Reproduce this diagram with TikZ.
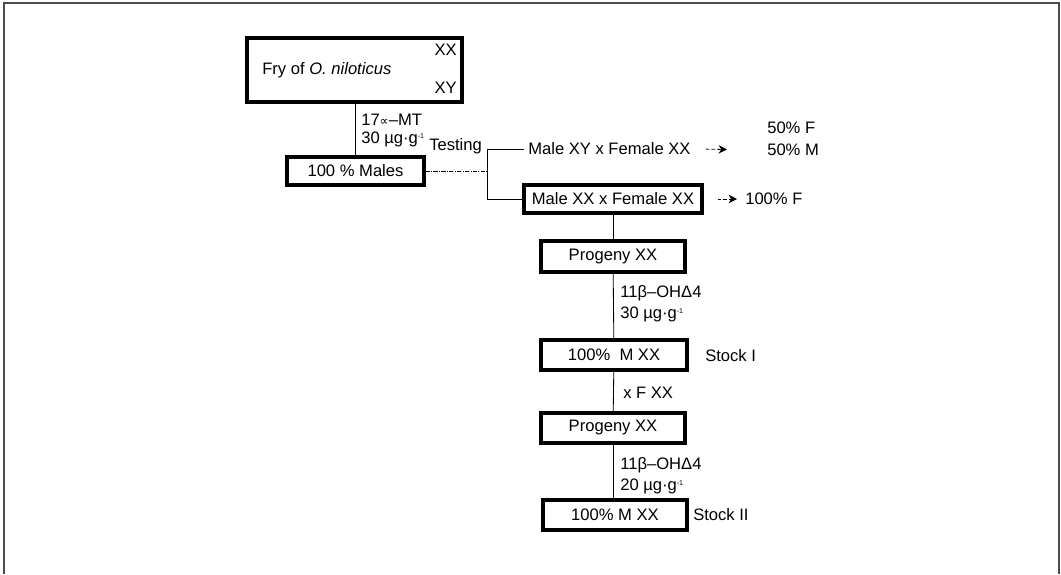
\documentclass[tikz,border=0pt]{standalone}
\usepackage{fontspec}
\setmainfont{Liberation Sans}
\newfontfamily\symfont{DejaVu Sans}
\usetikzlibrary{positioning,arrows.meta}

\begin{document}
\begin{tikzpicture}[x=0.025cm, y=-0.025cm, font=\fontsize{11.8}{14}\selectfont, box/.style={draw, line width=2.2pt, inner sep=0pt, minimum width=3.6cm, minimum height=0.75cm}, link/.style={line width=0.6pt}, txt/.style={inner sep=0pt, anchor=west}, arrow/.style={line width=0.6pt, dash pattern=on 2.5pt off 1.5pt, -{Stealth[length=6pt,width=6pt]}}]
\useasboundingbox (0,0) rectangle (1061,574);
% frame
\draw[line width=1.4pt, black!70] (4,574) -- (4,3) -- (1059,3) -- (1059,574);
% boxes
\node[box, minimum width=5.375cm, minimum height=1.6cm](fry) at (354.5,70){};
\node[txt](frytxt) at (262,70){Fry of \textit{O. niloticus}};
\node[txt, anchor=east](xx) at (457,50){XX};
\node[txt, anchor=east](xy) at (457,88){XY};
\node[box, minimum width=3.425cm, minimum height=0.7cm](males) at (355.5,171){100 \% Males};
\node[box, minimum width=4.45cm, minimum height=0.7cm](cross) at (613,199){Male XX x Female XX};
\node[box, minimum height=0.775cm](prog1) at (613,256.5){Progeny XX};
\node[box, minimum width=3.65cm](stock1) at (614,355){100\%\ \ M XX};
\node[box](prog2) at (613,428){Progeny XX};
\node[box](stock2) at (615,515){100\% M XX};
% labels
\node[txt](mt) at (361,120){17{\symfont\fontsize{9}{10}\selectfont ∝}–MT};
\node[txt](dose1) at (361,139){30 µg·g{\fontsize{7}{8}\selectfont\textsuperscript{-1}}};
\node[txt](test) at (429,146){Testing};
\node[txt, inner sep=0.1cm](cxy) at (524,149){Male XY x Female XX};
\node[txt](pf) at (767,128){50\% F};
\node[txt](pm) at (767,150){50\% M};
\node[txt](allf) at (745,199){100\% F};
\node[txt](oh1) at (620,293){11β–OHΔ4};
\node[txt](dose2) at (620,314){30 µg·g{\fontsize{7}{8}\selectfont\textsuperscript{-1}}};
\node[txt](st1) at (705,356){Stock I};
\node[txt](fxx) at (623,393){x F XX};
\node[txt](oh2) at (620,465){11β–OHΔ4};
\node[txt](dose3) at (620,486){20 µg·g{\fontsize{7}{8}\selectfont\textsuperscript{-1}}};
\node[txt](st2) at (693,515){Stock II};
% connectors
\coordinate (fork) at (487,171);
\coordinate (forkup) at (487,149);
\coordinate (forkdown) at (487,199);
\draw[link] (fry.south -| males.north) -- (males.north);
\draw[link, densely dashdotted] (males.east) -- (fork);
\draw[link] (cxy.west) -- (forkup) -- (forkdown) -- (cross.west);
\draw[arrow, shorten <=0.275cm, shorten >=1cm] (cxy.east) -- (pm.west);
\draw[arrow, shorten <=0.35cm, shorten >=0.2cm] (cross.east) -- (allf.west);
\draw[link] (cross.south -| prog1.north) -- (prog1.north);
\draw[link] (prog1) -- (stock1);
\draw[link] (stock1) -- (prog2);
\draw[link] (prog2.south) -- (prog2.south |- stock2.north);
\end{tikzpicture}
\end{document}
